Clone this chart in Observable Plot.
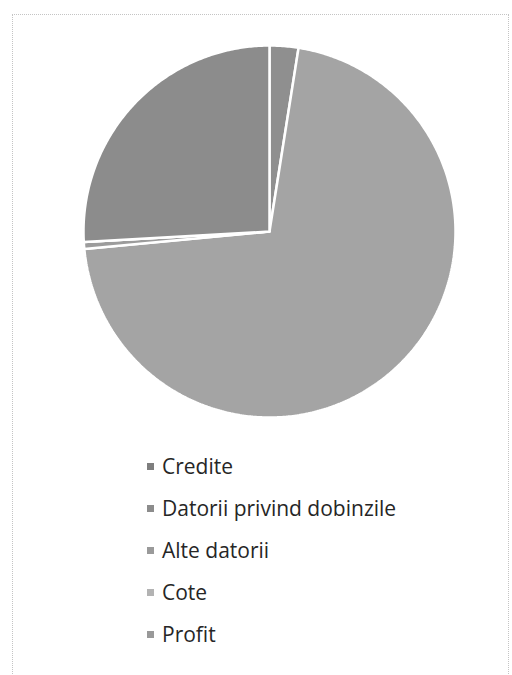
<!DOCTYPE html>
<html>
<head>
<meta charset="utf-8">
<script src="https://cdn.jsdelivr.net/npm/d3@7"></script>
<script src="https://cdn.jsdelivr.net/npm/@observablehq/plot@0.6"></script>
<style>
  html, body { margin: 0; padding: 0; background: #fff; }
  #wrap { position: relative; width: 512px; height: 675px; overflow: hidden; }
  #frame { position: absolute; left: 12px; top: 14px; width: 497px; height: 700px;
           border: 1px dotted #c4c4c4; box-sizing: border-box; }
  #chart { position: absolute; left: 0; top: 0; }
  #legend { position: absolute; left: 147px; top: 445px; font-family: "Open Sans", Lato, sans-serif;
            font-size: 21px; color: #262626; }
  .item { height: 42px; display: flex; align-items: center; }
  .sw { width: 7px; height: 7px; margin-right: 8px; }
</style>
</head>
<body>
<div id="wrap">
  <div id="frame"></div>
  <div id="chart"></div>
  <div id="legend"></div>
</div>
<script>
const categories = ["Credite", "Datorii privind dobinzile", "Alte datorii", "Cote", "Profit"];
const values = [2.5, 71.0, 0.6, 0.0, 25.9];
const sliceColors = ["#8f8f8f", "#a4a4a4", "#9c9c9c", "#b4b4b4", "#8c8c8c"];
const legendColors = ["#7e7e7e", "#8c8c8c", "#9a9a9a", "#b3b3b3", "#999999"];

const table = categories.map((c, i) => ({category: c, value: values[i]}));
const arcs = d3.pie().sort(null).value(d => d.value)(table);

// polygon points of each slice, in unit polar coordinates (clockwise from top)
const pts = [];
arcs.forEach(a => {
  const n = Math.max(2, Math.ceil((a.endAngle - a.startAngle) / 0.01));
  pts.push({category: a.data.category, x: 0, y: 0});
  for (let k = 0; k <= n; k++) {
    const t = a.startAngle + (a.endAngle - a.startAngle) * k / n;
    pts.push({category: a.data.category, x: Math.sin(t), y: Math.cos(t)});
  }
  pts.push({category: a.data.category, x: 0, y: 0});
});

const chart = Plot.plot({
  width: 512,
  height: 450,
  marginLeft: 83,
  marginRight: 57,
  marginTop: 45,
  marginBottom: 33,
  x: {domain: [-1, 1], axis: null},
  y: {domain: [-1, 1], axis: null},
  color: {domain: categories, range: sliceColors},
  marks: [
    Plot.line(pts, {x: "x", y: "y", z: "category", fill: "category",
      stroke: "white", strokeWidth: 2.5, strokeLinejoin: "miter", curve: "linear"})
  ]
});
document.getElementById("chart").appendChild(chart);

const legend = document.getElementById("legend");
categories.forEach((c, i) => {
  const row = document.createElement("div");
  row.className = "item";
  const sw = document.createElement("div");
  sw.className = "sw";
  sw.style.background = legendColors[i];
  const tx = document.createElement("span");
  tx.textContent = c;
  row.appendChild(sw);
  row.appendChild(tx);
  legend.appendChild(row);
});
</script>
</body>
</html>
